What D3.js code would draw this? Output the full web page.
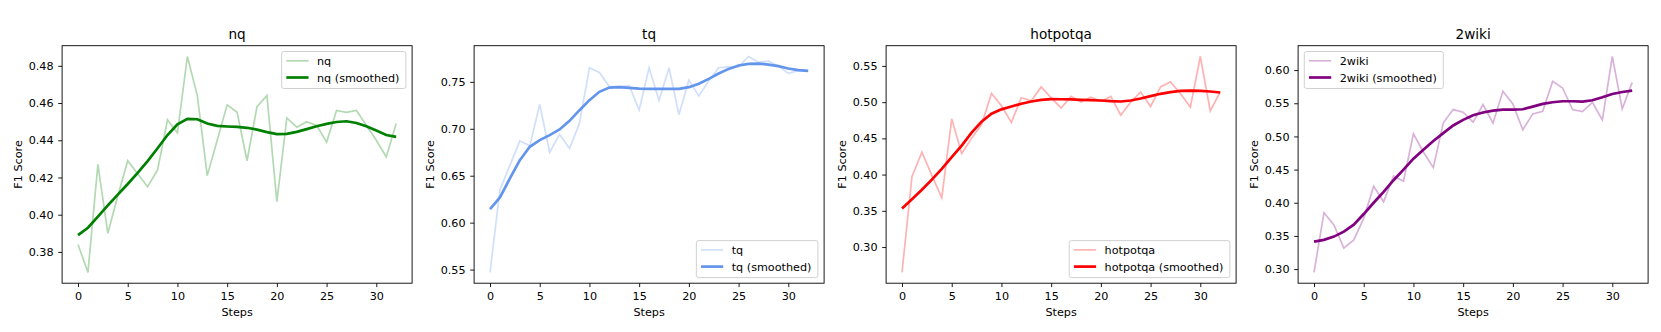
<!DOCTYPE html>
<html>
<head>
<meta charset="utf-8">
<script src="https://cdn.jsdelivr.net/npm/d3@7"></script>
<style>
  body { margin: 0; background: #fff; }
  svg { display: block; font-family: "DejaVu Sans", sans-serif; }
  .tick text { font-size: 11.2px; fill: #000; }
  .tick line { stroke: #000; stroke-width: 0.9; }
</style>
</head>
<body>
<svg id="chart" width="1661" height="332"></svg>
<script>
// x values (training steps)
var steps = [0,1,2,3,4,5,6,7,8,9,10,11,12,13,14,15,16,17,18,19,20,21,22,23,24,25,26,27,28,29,30,31,32];

// raw F1 scores per dataset
var nqRaw = [0.384,0.369,0.427,0.390,0.410,0.429,0.422,0.415,0.424,0.451,0.444,0.485,0.464,0.421,0.440,0.459,0.455,
  0.429,0.458,0.464,0.407,0.452,0.447,0.450,0.448,0.439,0.456,0.455,0.456,0.448,0.440,0.431,0.449];
var tqRaw = [0.547,0.635,0.661,0.687,0.682,0.726,0.675,0.694,0.679,0.706,0.765,0.760,0.745,0.745,0.746,0.720,0.765,
  0.730,0.765,0.715,0.752,0.735,0.751,0.765,0.766,0.766,0.777,0.771,0.772,0.767,0.759,0.762,0.762];
var hotpotqaRaw = [0.265,0.397,0.431,0.399,0.368,0.477,0.429,0.450,0.469,0.512,0.495,0.472,0.506,0.502,0.521,0.506,0.492,
  0.508,0.500,0.507,0.501,0.508,0.482,0.500,0.514,0.494,0.521,0.528,0.512,0.493,0.563,0.488,0.514];
var wikiRaw = [0.295,0.385,0.3665,0.3315,0.344,0.3765,0.425,0.4015,0.4405,0.4325,0.504,0.4765,0.453,0.5205,0.5405,0.5365,0.5215,
  0.548,0.520,0.568,0.549,0.510,0.534,0.538,0.583,0.573,0.5405,0.5375,0.5515,0.525,0.6205,0.5415,0.5815];

// smoothed F1 scores
var nqSmooth = [0.389,0.393,0.399,0.405,0.4108,0.4165,0.4225,0.4288,0.4357,0.4428,0.4485,0.4515,0.4513,0.449,0.4477,0.4474,0.4472,
  0.4467,0.4457,0.4444,0.4433,0.4434,0.4445,0.446,0.4475,0.4488,0.4498,0.4502,0.4493,0.4475,0.4452,0.4428,0.4418];
var tqSmooth = [0.6145,0.6269,0.6471,0.6666,0.6808,0.6879,0.6932,0.6993,0.7085,0.7198,0.7305,0.7394,0.7439,0.7444,0.7436,0.7428,0.7426,
  0.7426,0.7426,0.7426,0.7443,0.7479,0.7532,0.7589,0.7638,0.7674,0.7691,0.7695,0.7684,0.7667,0.7642,0.7624,0.7617];
var hotpotqaSmooth = [0.3532,0.366,0.379,0.393,0.408,0.424,0.440,0.458,0.473,0.484,0.490,0.494,0.4977,0.5009,0.5032,0.5041,0.504,
  0.5037,0.5032,0.5028,0.5023,0.5014,0.5009,0.5023,0.505,0.5083,0.5115,0.5138,0.5156,0.516,0.5156,0.5147,0.5133];
var wikiSmooth = [0.3415,0.344,0.349,0.3565,0.367,0.383,0.40,0.4165,0.434,0.45,0.4665,0.48,0.493,0.505,0.5165,0.525,0.532,
  0.536,0.539,0.5405,0.5405,0.541,0.545,0.549,0.5515,0.553,0.553,0.5525,0.5545,0.559,0.564,0.567,0.569];

var names = ["nq", "tq", "hotpotqa", "2wiki"];
var colors = ["#008000", "#6495ed", "#ff0000", "#800080"];
var rawSeries = [nqRaw, tqRaw, hotpotqaRaw, wikiRaw];
var smoothSeries = [nqSmooth, tqSmooth, hotpotqaSmooth, wikiSmooth];
var yTicks = [[0.38,0.40,0.42,0.44,0.46,0.48],
              [0.55,0.60,0.65,0.70,0.75],
              [0.30,0.35,0.40,0.45,0.50,0.55],
              [0.30,0.35,0.40,0.45,0.50,0.55,0.60]];
var xTicks = [0,5,10,15,20,25,30];
var legendLoc = ["upper right", "lower right", "lower right", "upper left"];

var svg = d3.select("#chart");
svg.append("rect").attr("width", 1661).attr("height", 332).attr("fill", "#fff");

var panelLeft = [62.1, 474.1, 886.1, 1298.1],
    panelW = 350,
    plotTop = 45.7,
    plotBottom = 283.2;

// matplotlib style 5% margins
function padded(ext) {
  var p = (ext[1] - ext[0]) * 0.05;
  return [ext[0] - p, ext[1] + p];
}

names.forEach(function(name, k) {
  var left = panelLeft[k];
  var g = svg.append("g");

  var x = d3.scaleLinear()
    .domain(padded(d3.extent(steps)))
    .range([left, left + panelW]);

  var y = d3.scaleLinear()
    .domain(padded(d3.extent(rawSeries[k].concat(smoothSeries[k]))))
    .range([plotBottom, plotTop]);

  var clipId = "clip" + k;
  g.append("clipPath").attr("id", clipId)
    .append("rect")
    .attr("x", left).attr("y", plotTop)
    .attr("width", panelW).attr("height", plotBottom - plotTop);

  var line = d3.line()
    .x(function(d, i) { return x(steps[i]); })
    .y(function(d) { return y(d); });

  g.append("path")
    .datum(rawSeries[k])
    .attr("clip-path", "url(#" + clipId + ")")
    .attr("fill", "none")
    .attr("stroke", colors[k])
    .attr("stroke-opacity", 0.3)
    .attr("stroke-width", 1.7)
    .attr("d", line);

  g.append("path")
    .datum(smoothSeries[k])
    .attr("clip-path", "url(#" + clipId + ")")
    .attr("fill", "none")
    .attr("stroke", colors[k])
    .attr("stroke-width", 2.7)
    .attr("d", line);

  // axes
  var xAxis = d3.axisBottom(x).tickValues(xTicks).tickSize(3.9).tickSizeOuter(0).tickPadding(5.2);
  var yAxis = d3.axisLeft(y).tickValues(yTicks[k]).tickFormat(d3.format(".2f"))
    .tickSize(3.9).tickSizeOuter(0).tickPadding(4.6);

  var gx = g.append("g").attr("transform", "translate(0," + plotBottom + ")").call(xAxis);
  var gy = g.append("g").attr("transform", "translate(" + left + ",0)").call(yAxis);
  gx.select(".domain").remove();
  gy.select(".domain").remove();
  gx.selectAll("text").attr("font-family", "DejaVu Sans");
  gy.selectAll("text").attr("font-family", "DejaVu Sans");

  // frame
  g.append("rect")
    .attr("x", left).attr("y", plotTop)
    .attr("width", panelW).attr("height", plotBottom - plotTop)
    .attr("fill", "none")
    .attr("stroke", "#000")
    .attr("stroke-width", 0.9);

  // title and labels
  g.append("text")
    .attr("x", left + panelW / 2)
    .attr("y", 39)
    .attr("text-anchor", "middle")
    .attr("font-size", "13.6px")
    .text(name);

  g.append("text")
    .attr("x", left + panelW / 2)
    .attr("y", 316)
    .attr("text-anchor", "middle")
    .attr("font-size", "11.2px")
    .text("Steps");

  g.append("text")
    .attr("transform", "translate(" + (left - 40) + "," + ((plotTop + plotBottom) / 2) + ") rotate(-90)")
    .attr("text-anchor", "middle")
    .attr("font-size", "11.2px")
    .text("F1 Score");

  // legend
  var labels = [name, name + " (smoothed)"];
  var lg = g.append("g");
  var frame = lg.append("rect")
    .attr("rx", 2.2).attr("ry", 2.2)
    .attr("fill", "#fff").attr("fill-opacity", 0.8)
    .attr("stroke", "#cccccc").attr("stroke-width", 0.9);

  var maxW = 0;
  labels.forEach(function(lab, j) {
    var ty = 9.3 + j * 16.7;
    lg.append("line")
      .attr("x1", 4.7).attr("x2", 26.9)
      .attr("y1", ty).attr("y2", ty)
      .attr("stroke", colors[k])
      .attr("stroke-opacity", j === 0 ? 0.3 : 1)
      .attr("stroke-width", j === 0 ? 1.7 : 2.7);
    var t = lg.append("text")
      .attr("x", 35.4).attr("y", ty)
      .attr("dy", "0.36em")
      .attr("font-size", "11.2px")
      .text(lab);
    maxW = Math.max(maxW, t.node().getComputedTextLength());
  });

  var boxW = 35.4 + maxW + 6.5, boxH = 37;
  frame.attr("width", boxW).attr("height", boxH);

  var lx = legendLoc[k].indexOf("right") >= 0 ? left + panelW - 6.2 - boxW : left + 6.2;
  var ly = legendLoc[k].indexOf("upper") >= 0 ? plotTop + 5.8 : plotBottom - 5.6 - boxH;
  lg.attr("transform", "translate(" + lx + "," + ly + ")");
});
</script>
</body>
</html>
